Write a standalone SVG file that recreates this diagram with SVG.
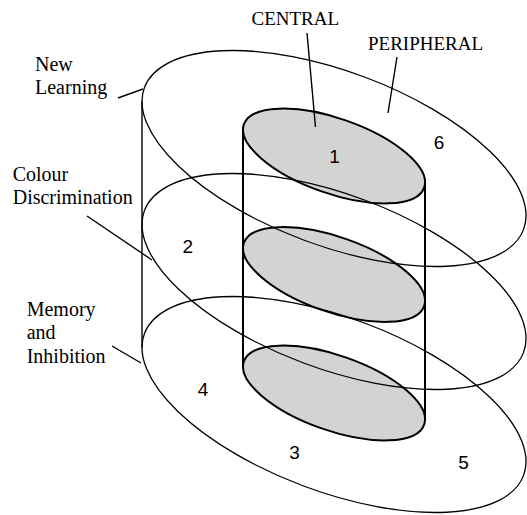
<svg xmlns="http://www.w3.org/2000/svg" width="527" height="515" viewBox="0 0 527 515">
<style>
.big{fill:none;stroke:#000;stroke-width:1.3}
.small{fill:#d3d3d3;stroke:#000;stroke-width:2}
.ln{stroke:#000;stroke-width:1.4;fill:none}
.lnb{stroke:#000;stroke-width:2;fill:none}
.lbl{font-family:"Liberation Serif","Times New Roman",serif;font-size:20px;fill:#000}
.num{font-family:"Liberation Sans",Arial,sans-serif;font-size:19px;fill:#000;text-anchor:middle}
</style>
<rect width="527" height="515" fill="#fff"/>
<g id="central-cores">
<g id="core-top"><ellipse class="small" cx="334" cy="156" rx="95.5" ry="37.5" transform="rotate(19.3 334 156)"/></g>
<g id="core-mid"><ellipse class="small" cx="334" cy="274.5" rx="95.5" ry="37.5" transform="rotate(19.3 334 274.5)"/></g>
<g id="core-bot"><ellipse class="small" cx="334" cy="393" rx="95.5" ry="37.5" transform="rotate(19.3 334 393)"/></g>
</g>
<g id="layers">
<g id="layer-new-learning"><ellipse class="big" cx="334" cy="158.5" rx="202.4" ry="87" transform="rotate(20.5 334 158.5)"/></g>
<g id="layer-colour"><ellipse class="big" cx="334" cy="281.5" rx="202.4" ry="87" transform="rotate(20.5 334 281.5)"/></g>
<g id="layer-memory"><ellipse class="big" cx="334" cy="404.5" rx="202.4" ry="87" transform="rotate(20.5 334 404.5)"/></g>
</g>
<g id="connectors">
<line class="ln" x1="142" y1="101.5" x2="142" y2="347.5"/>
<line class="lnb" x1="243" y1="129.5" x2="243" y2="366.5"/>
<line class="lnb" x1="425" y1="182.5" x2="425" y2="419.5"/>
<line class="ln" x1="118" y1="98" x2="143" y2="89"/>
<line class="ln" x1="307" y1="33" x2="315.5" y2="127"/>
<line class="ln" x1="397" y1="57" x2="388" y2="113"/>
<line class="ln" x1="87" y1="216" x2="152" y2="260"/>
<line class="ln" x1="112" y1="346" x2="141" y2="363"/>
</g>
<g id="labels">
<text class="lbl" x="251.5" y="25" style="font-size:19px">CENTRAL</text>
<text class="lbl" x="368" y="50" style="font-size:19px">PERIPHERAL</text>
<text class="lbl" x="35" y="70.5">New</text>
<text class="lbl" x="35" y="94">Learning</text>
<text class="lbl" x="12.7" y="180.5">Colour</text>
<text class="lbl" x="12.7" y="203.5">Discrimination</text>
<text class="lbl" x="26.7" y="316">Memory</text>
<text class="lbl" x="26.7" y="339">and</text>
<text class="lbl" x="26.7" y="362.5">Inhibition</text>
</g>
<g id="numbers">
<text class="num" x="334.5" y="163.3">1</text>
<text class="num" x="187.7" y="252.7">2</text>
<text class="num" x="294.5" y="459.3">3</text>
<text class="num" x="203" y="396">4</text>
<text class="num" x="463.5" y="469.3">5</text>
<text class="num" x="439" y="149.3">6</text>
</g>
</svg>
